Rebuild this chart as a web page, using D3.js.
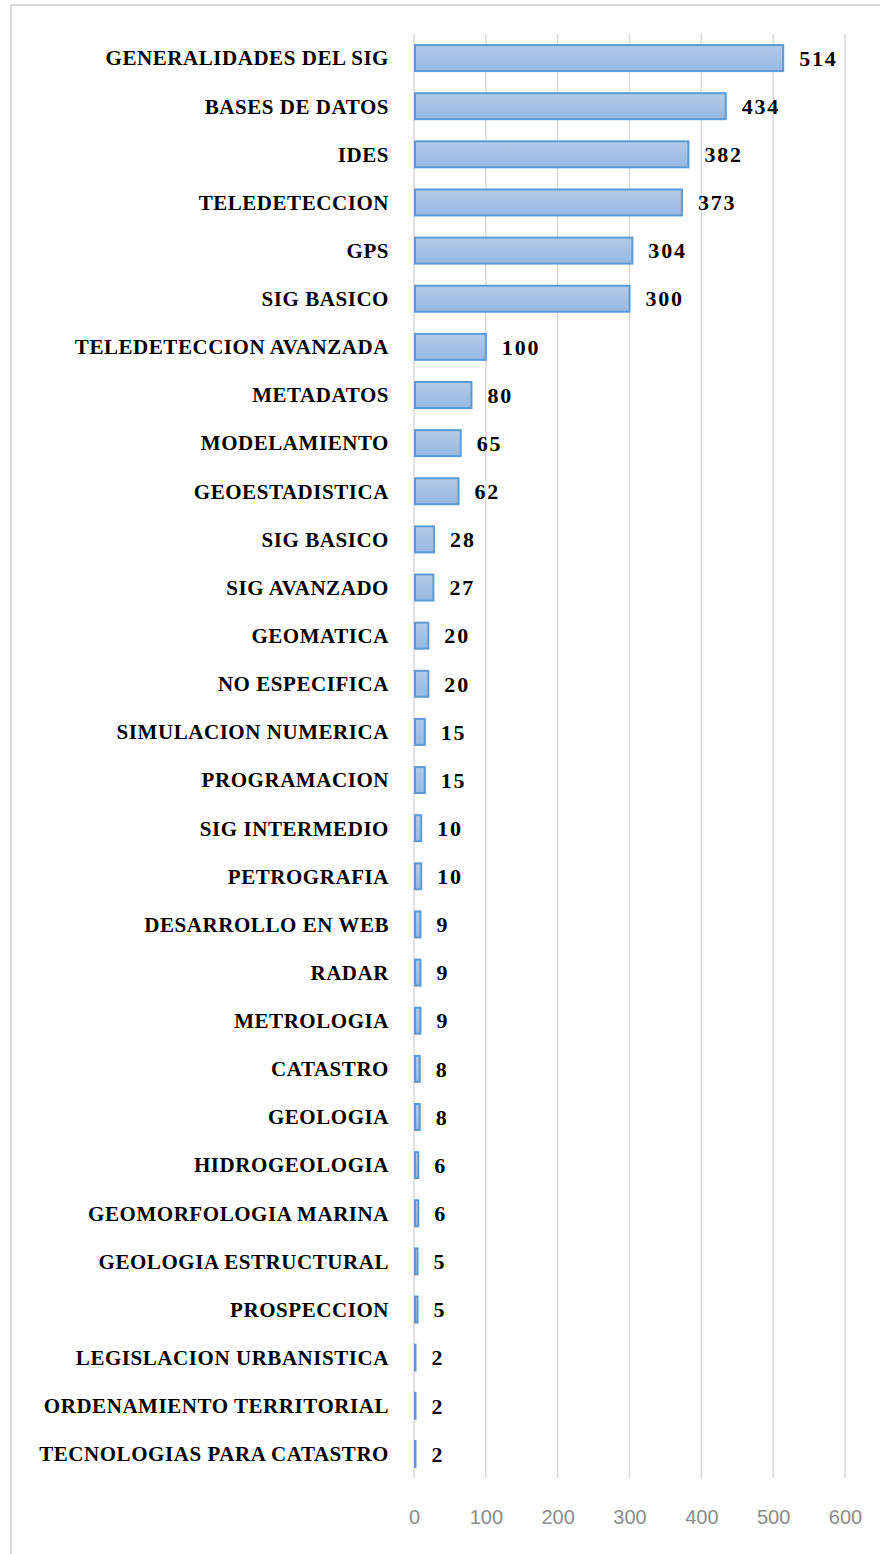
<!DOCTYPE html>
<html><head><meta charset="utf-8">
<script src="https://cdn.jsdelivr.net/npm/d3@7"></script>
<style>body{margin:0;background:#fff}</style>
</head><body>
<script>
const categories = ["GENERALIDADES DEL SIG","BASES DE DATOS","IDES","TELEDETECCION","GPS","SIG BASICO ","TELEDETECCION AVANZADA","METADATOS","MODELAMIENTO","GEOESTADISTICA","SIG BASICO","SIG AVANZADO","GEOMATICA","NO ESPECIFICA","SIMULACION NUMERICA","PROGRAMACION","SIG INTERMEDIO","PETROGRAFIA","DESARROLLO EN WEB","RADAR","METROLOGIA","CATASTRO","GEOLOGIA","HIDROGEOLOGIA","GEOMORFOLOGIA MARINA","GEOLOGIA ESTRUCTURAL","PROSPECCION","LEGISLACION URBANISTICA","ORDENAMIENTO TERRITORIAL","TECNOLOGIAS PARA CATASTRO"];
const values = [514,434,382,373,304,300,100,80,65,62,28,27,20,20,15,15,10,10,9,9,9,8,8,6,6,5,5,2,2,2];
const ticks = [0,100,200,300,400,500,600];

const W = 880, H = 1554;
const svg = d3.select("body").append("svg").attr("width", W).attr("height", H);

const defs = svg.append("defs");
const g = defs.append("linearGradient").attr("id","bg").attr("x1",0).attr("y1",0).attr("x2",0).attr("y2",1);
g.append("stop").attr("offset","0%").attr("stop-color","#b3cbea");
g.append("stop").attr("offset","100%").attr("stop-color","#95b8e2");

// frame
svg.append("rect").attr("x",11).attr("y",5).attr("width",880).attr("height",1560)
  .attr("fill","#fff").attr("stroke","#d9d9d9").attr("stroke-width",2);

const x = d3.scaleLinear().domain([0,600]).range([414,845]);
const y = d3.scaleBand().domain(d3.range(categories.length)).range([34,1478]).paddingInner(0.46).paddingOuter(0.23);

// gridlines
svg.append("g").selectAll("line").data(ticks).join("line")
  .attr("x1",d=>x(d)).attr("x2",d=>x(d)).attr("y1",34).attr("y2",1478)
  .attr("stroke","#d9d9d9").attr("stroke-width",1.5);

// bars
svg.append("g").selectAll("rect").data(values).join("rect")
  .attr("x",x(0)+1).attr("y",(d,i)=>y(i))
  .attr("width",d=>Math.max(0.5,x(d)-x(0)-1)).attr("height",y.bandwidth())
  .attr("fill","url(#bg)").attr("stroke","#5b9bd5").attr("stroke-width",2);

// category labels
svg.append("g").selectAll("text").data(categories).join("text")
  .attr("x",389).attr("y",(d,i)=>y(i)+y.bandwidth()/2)
  .attr("dy","0.35em").attr("text-anchor","end")
  .attr("font-family","'Liberation Serif', serif").attr("font-weight","bold").attr("font-size",21)
  .attr("letter-spacing","0.55px")
  .attr("fill","#000").text(d=>d);

// value labels
svg.append("g").selectAll("text").data(values).join("text")
  .attr("x",d=>x(d)+16).attr("y",(d,i)=>y(i)+y.bandwidth()/2)
  .attr("dy","0.35em")
  .attr("font-family","'Liberation Serif', serif").attr("font-weight","bold").attr("font-size",22)
  .attr("letter-spacing","1.8px")
  .attr("fill","#000").text(d=>d);

// axis
const ax = svg.append("g").attr("transform","translate(0,1510)")
  .call(d3.axisBottom(x).tickValues(ticks).tickSize(0).tickPadding(0));
ax.select(".domain").remove();
ax.selectAll("text").attr("font-family","'Liberation Sans', sans-serif").attr("font-size",20).attr("fill","#8c8c8c");
</script>
</body></html>
